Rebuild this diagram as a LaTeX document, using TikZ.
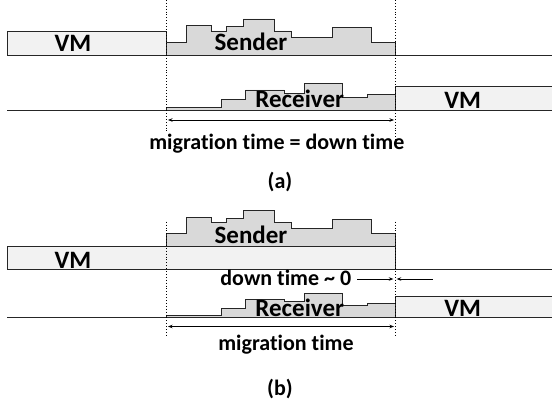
\documentclass[tikz,border=0pt]{standalone}
\usepackage{fontspec}
\setmainfont{Carlito}[Ligatures={NoCommon,NoContextual}]
\usetikzlibrary{arrows.meta}
\definecolor{edge}{HTML}{262626}
\definecolor{vmfill}{HTML}{F2F2F2}
\definecolor{loadfill}{HTML}{D9D9D9}
\tikzset{
  big/.style={anchor=base, inner sep=0pt, font=\fontsize{25}{30}\selectfont\bfseries},
  lbl/.style={anchor=base, inner sep=0pt, font=\fontsize{22}{26}\selectfont\bfseries},
  vmbox/.style={draw=edge, fill=vmfill, line width=0.9pt},
  load/.style={draw=edge, fill=loadfill, line width=0.9pt},
  track/.style={draw=edge, line width=0.9pt},
  marker/.style={dotted, line width=0.9pt, black},
  span/.style={line width=0.8pt, black, {Stealth[length=4.5pt,width=3.5pt]}-{Stealth[length=4.5pt,width=3.5pt]}},
  into/.style={line width=0.8pt, black, -{Stealth[length=4.5pt,width=3.5pt]}},
}
\begin{document}
\begin{tikzpicture}[x=1pt, y=-1pt]
\useasboundingbox (0,0) rectangle (552,404);
\clip (0,0) rectangle (552,404);

% ---------- (a) stop-and-copy ----------
\draw[track] (7,55) -- (553,55);
\draw[vmbox] (7,31) rectangle (166,55);
\draw[load] (166,55) -- (166,42.3) -- (186.7,42.3) -- (186.7,25.7) -- (211.7,25.7) -- (211.7,31)
  -- (226.7,31) -- (226.7,26.5) -- (243,26.5) -- (243,19) -- (274.3,19) -- (274.3,31)
  -- (291.7,31) -- (291.7,37.3) -- (332.7,37.3) -- (332.7,27.5) -- (371,27.5) -- (371,42.3)
  -- (395,42.3) -- (395,55) -- cycle;
\draw[track] (7,110.7) -- (395,110.7);
\draw[load] (166,110.7) -- (166,107.7) -- (221.7,107.7) -- (221.7,99.3) -- (245.7,99.3) -- (245.7,90)
  -- (284,90) -- (284,93.3) -- (304,93.3) -- (304,83.3) -- (342.7,83.3) -- (342.7,97.5)
  -- (367,97.5) -- (367,94.5) -- (395,94.5) -- (395,110.7) -- cycle;
\draw[vmbox] (395,86) rectangle (560,110.7);

\draw[marker] (166,0) -- (166,132);
\draw[marker] (395,0) -- (395,140);

\coordinate (mAl) at (168,120);
\coordinate (mAr) at (394,120);
\draw[span] (mAl) -- (mAr);

\node[big] (vmA) at (73,51.7) {VM};
\node[big] (sendA) at (251,50.7) {Sender};
\node[big] (recvA) at (299.7,107.7) {Receiver};
\node[big] (vmA2) at (462.7,108.3) {VM};
\node[lbl] (migA) at (276.8,149) {migration time = down time};
\node[lbl] (capA) at (280,188) {(a)};

% ---------- (b) live migration ----------
\draw[track] (7,269) -- (553,269);
\draw[vmbox] (7,246) rectangle (395,269);
\begin{scope}[shift={(0,191.5)}]
\draw[load] (166,55) -- (166,42.3) -- (186.7,42.3) -- (186.7,25.7) -- (211.7,25.7) -- (211.7,31)
  -- (226.7,31) -- (226.7,26.5) -- (243,26.5) -- (243,19) -- (274.3,19) -- (274.3,31)
  -- (291.7,31) -- (291.7,37.3) -- (332.7,37.3) -- (332.7,27.5) -- (371,27.5) -- (371,42.3)
  -- (395,42.3) -- (395,55) -- cycle;
\end{scope}
\draw[track] (7,317.5) -- (395,317.5);
\draw[load] (166,317.5) -- (166,315) -- (221.7,315) -- (221.7,308) -- (245.7,308) -- (245.7,299.5)
  -- (284,299.5) -- (284,301.5) -- (304,301.5) -- (304,293.5) -- (342.7,293.5) -- (342.7,305.5)
  -- (367,305.5) -- (367,303.5) -- (395,303.5) -- (395,317.5) -- cycle;
\draw[vmbox] (395,296.5) rectangle (560,317.5);

\draw[marker] (166,221.7) -- (166,337);
\draw[marker] (395,221.7) -- (395,337);

\coordinate (mBl) at (168,326.5);
\coordinate (mBr) at (394,326.5);
\draw[span] (mBl) -- (mBr);

\node[big] (vmB) at (73,268) {VM};
\node[big] (sendB) at (251,243.3) {Sender};
\node[lbl] (downB) at (285.8,285) {down time \textasciitilde{} 0};
\node[big] (recvB) at (299.7,316) {Receiver};
\node[big] (vmB2) at (462.7,316.7) {VM};
\node[lbl] (migB) at (286,350) {migration time};
\node[lbl] (capB) at (280,395) {(b)};

% inward arrows marking the (near-zero) down time
\coordinate (tailL) at (357.3,279);
\coordinate (gapL) at (393.3,279);
\coordinate (gapR) at (396.7,279);
\coordinate (tailR) at (432.7,279);
\draw[into] (tailL) -- (gapL);
\draw[into] (tailR) -- (gapR);
\end{tikzpicture}
\end{document}
